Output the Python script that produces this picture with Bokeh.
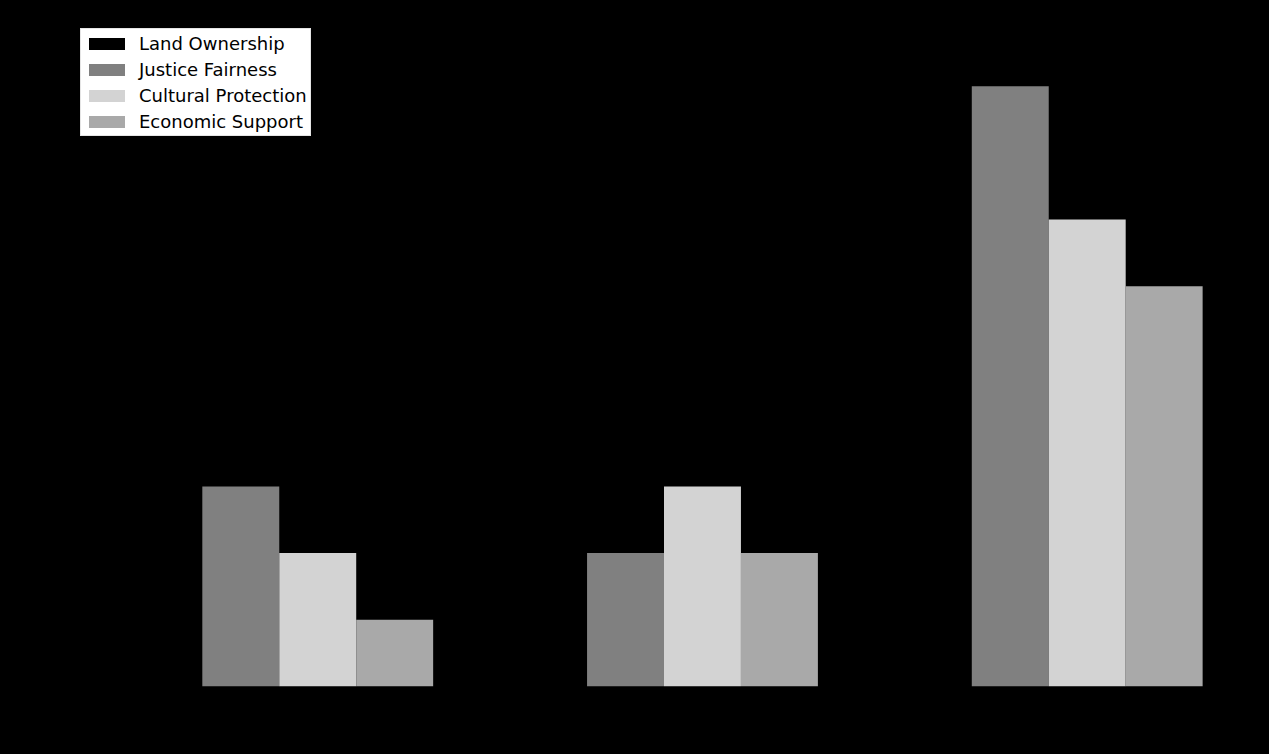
from bokeh.plotting import figure
from bokeh.models import ColumnDataSource, Range1d, Legend
from bokeh.transform import dodge
from bokeh.embed import file_html
from bokeh.resources import INLINE

# ---- data ----
categories = ["Group 1", "Group 2", "Group 3"]
land_ownership = [2, 0, 8]
justice_fairness = [3, 2, 9]
cultural_protection = [2, 3, 7]
economic_support = [1, 2, 6]

series_names = ["Land Ownership", "Justice Fairness", "Cultural Protection", "Economic Support"]
series_keys = ["lo", "jf", "cp", "es"]
series_colors = ["#000000", "#808080", "#d3d3d3", "#a9a9a9"]
offsets = [-0.3, -0.1, 0.1, 0.3]

source = ColumnDataSource(dict(
    x=list(range(len(categories))),
    cat=categories,
    lo=land_ownership,
    jf=justice_fairness,
    cp=cultural_protection,
    es=economic_support,
))

p = figure(
    width=1261, height=746,
    output_backend="svg", toolbar_location=None,
    x_range=Range1d(-0.54, 2.54), y_range=Range1d(0, 10),
    min_border_left=71, min_border_right=5, min_border_top=19, min_border_bottom=60,
)
p.background_fill_color = "#000000"
p.border_fill_color = "#000000"
p.outline_line_color = None
p.xgrid.visible = False
p.ygrid.visible = False
p.xaxis.visible = False
p.yaxis.visible = False

items = []
for name, key, col, off in zip(series_names, series_keys, series_colors, offsets):
    r = p.vbar(x=dodge("x", off), top=key, width=0.2, bottom=0, source=source,
               fill_color=col, line_color=None)
    items.append((name, [r]))

legend = Legend(items=items, location="top_left")
legend.margin = 9
legend.padding = 3
legend.spacing = 4
legend.label_height = 22
legend.glyph_width = 45
legend.glyph_height = 15
legend.label_standoff = 10
legend.label_text_font = "DejaVu Sans"
legend.label_text_font_size = "18px"
legend.label_text_color = "#000000"
legend.background_fill_color = "#ffffff"
legend.background_fill_alpha = 1.0
legend.border_line_color = "#cccccc"
legend.border_line_width = 1
p.add_layout(legend, "center")

html = file_html(p, INLINE)
html = html.replace("</head>", "<style>html, body { background: #000000; }</style></head>", 1)
open("out.html", "w").write(html)
